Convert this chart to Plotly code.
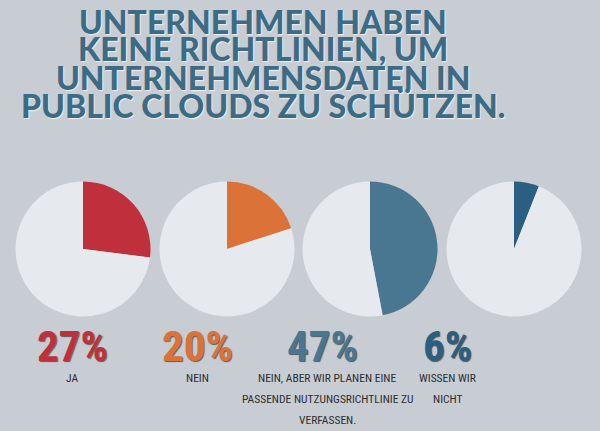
import plotly.graph_objects as go

# ---- data ----
title_lines = ["UNTERNEHMEN HABEN", "KEINE RICHTLINIEN, UM",
               "UNTERNEHMENSDATEN IN", "PUBLIC CLOUDS ZU SCHÜTZEN."]
shares = [27, 20, 47, 6]
pct_labels = ["27%", "20%", "47%", "6%"]
cat_labels = [["JA"], ["NEIN"],
              ["NEIN, ABER WIR PLANEN EINE", "PASSENDE NUTZUNGSRICHTLINIE ZU", "VERFASSEN."],
              ["WISSEN WIR", "NICHT"]]
colors = ["#c0303c", "#db7339", "#497791", "#2a5f82"]
rest_color = "#e6e9ee"

W, H = 600, 431
def px(x): return x / W
def py(y): return 1 - y / H

pie_cx = [83, 227, 370, 514]
pie_cy = 249
r = 67.5
label_cx = [72, 197, 322, 447]
COND = "Roboto Condensed, DejaVu Sans Condensed, sans-serif"

fig = go.Figure()
for i, v in enumerate(shares):
    fig.add_trace(go.Pie(
        values=[v, 100 - v],
        marker=dict(colors=[colors[i], rest_color], line=dict(width=0)),
        sort=False, direction="clockwise", rotation=0,
        textinfo="none", hoverinfo="skip", showlegend=False,
        domain=dict(x=[px(pie_cx[i] - r), px(pie_cx[i] + r)],
                    y=[py(pie_cy + r), py(pie_cy - r)]),
    ))

ann = []
title_y = [21, 49, 77, 105]
for t, y in zip(title_lines, title_y):
    ann.append(dict(text=t, x=px(263), y=py(y), xref="paper", yref="paper",
                    xanchor="center", yanchor="middle", showarrow=False,
                    font=dict(family="Lato Black, Lato", size=32, color="#3d6b83", weight=900,
                              shadow="1px 1px 1px #eef1f4")))
for i in range(4):
    ann.append(dict(text=pct_labels[i], x=px(label_cx[i]), y=py(346), xref="paper", yref="paper",
                    xanchor="center", yanchor="middle", showarrow=False,
                    font=dict(family=COND, size=43, color=colors[i], weight=700,
                              shadow="1px 1px 1px #555a60")))
    for j, line in enumerate(cat_labels[i]):
        ann.append(dict(text=line, x=px(label_cx[i] + (5 if i == 2 else 0)), y=py(378 + 21 * j),
                        xref="paper", yref="paper",
                        xanchor="center", yanchor="middle", showarrow=False,
                        font=dict(family=COND, size=11.5, color="#2e2e2e")))

fig.update_layout(
    width=W, height=H, margin=dict(l=0, r=0, t=0, b=0),
    paper_bgcolor="#c8cdd4", plot_bgcolor="#c8cdd4",
    annotations=ann,
)
fig.write_html("out.html", config={"displayModeBar": False},
               post_script="document.body.style.margin='0px';")
